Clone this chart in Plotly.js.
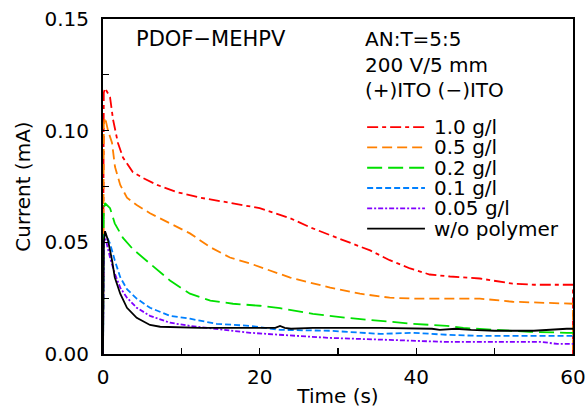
<!DOCTYPE html>
<html><head><meta charset="utf-8">
<script src="https://cdn.plot.ly/plotly-3.0.1.min.js"></script>
<style>html,body{margin:0;padding:0;background:#fff}#c{width:587px;height:408px}</style>
</head><body><div id="c"></div>
<script>
const seriesNames = ["1.0 g/l","0.5 g/l","0.2 g/l","0.1 g/l","0.05 g/l","w/o polymer"];
const t_red = [0,0.1,0.26,0.9,1.28,1.9,2.55,3.8,5.1,6.9,9.4,12.4,14.9,17.5,20,23.9,26.4,29,31.5,34.1,36.6,39.2,41.7,44.3,48.1,52.3,55,59.6,60,60];
const v_red = [0,0.117,0.119,0.115,0.105,0.0946,0.088,0.0815,0.0788,0.0757,0.0725,0.070,0.0685,0.067,0.0653,0.0608,0.0568,0.0532,0.050,0.0464,0.042,0.0383,0.0356,0.0347,0.0338,0.0315,0.031,0.031,0.031,0];
const t_orange = [0,0.1,0.26,0.64,1.15,1.53,2.2,3.06,4.3,6,8.55,11.1,13.7,16.2,18.8,21.3,23.9,26.4,29,32.8,36.6,39.6,43.9,48.1,52.3,55.4,59.2,60,60];
const v_orange = [0,0.103,0.106,0.100,0.0946,0.0838,0.0757,0.070,0.0667,0.063,0.0585,0.054,0.0478,0.0432,0.0405,0.0374,0.0342,0.032,0.0297,0.027,0.0252,0.0248,0.0248,0.0248,0.0234,0.023,0.0225,0.0225,0];
const t_green = [0,0.1,0.26,0.9,1.5,2.55,3.8,6,8.55,11.1,13.7,16.6,20,22.6,26.8,31.1,35.4,39.6,43.9,46,50.3,54.5,59.2,60];
const v_green = [0,0.065,0.0675,0.0653,0.0585,0.052,0.047,0.0405,0.0329,0.027,0.0239,0.0225,0.0216,0.0205,0.018,0.0162,0.0149,0.0135,0.0126,0.0117,0.0108,0.0099,0.0095,0.0095];
const t_blue = [0,0.1,0.3,0.9,1.5,2.2,3.06,4.3,6,8.55,11.1,14.5,18.8,22.6,29,35.4,39.6,43.9,48.1,55,60];
const v_blue = [0,0.052,0.054,0.0495,0.042,0.0344,0.029,0.0248,0.0207,0.0171,0.0158,0.0135,0.0126,0.0108,0.0104,0.009,0.0095,0.0086,0.0081,0.0081,0.0081];
const t_purple = [0,0.1,0.3,0.9,1.5,2.2,3.06,4.3,6,8.55,11.1,14.5,18.8,23,29,36.6,43.9,56,58,60];
const v_purple = [0,0.050,0.052,0.0432,0.036,0.0297,0.0252,0.0207,0.0171,0.014,0.0126,0.0113,0.0095,0.0085,0.0072,0.0063,0.0054,0.0054,0.0045,0.0045];
const t_black = [0,0.1,0.26,0.64,1.15,1.5,2.2,3.06,4.3,6,7.3,12.4,22,22.6,23.2,24,26.8,35.4,42,43,45,47,50,55,59.2,60];
const v_black = [0,0.050,0.055,0.0509,0.042,0.0344,0.027,0.0207,0.0162,0.013,0.0122,0.0117,0.0117,0.0126,0.0117,0.0113,0.0117,0.0117,0.0113,0.0108,0.0113,0.0108,0.0104,0.0104,0.0113,0.0113];
const xTickVals = [0,10,20,30,40,50,60];
const xTickText = ["0","","20","","40","","60"];
const yTickVals = [0,0.025,0.05,0.075,0.10,0.125,0.15];
const yTickText = ["0.00","","0.05","","0.10","","0.15"];
const noteLines = ["AN:T=5:5","200 V/5 mm","(+)ITO (\u2212)ITO"];
const plotLabel = "PDOF\u2212MEHPV";

const colors = ["#ff0000","#ff8000","#00e000","#0080ff","#8000ff","#000000"];
const dashes = ["11px,4px,4px,4px","10px,5px","15px,6px","6px,3px","5px,2px,2px,2px","solid"];
const xs = [t_red,t_orange,t_green,t_blue,t_purple,t_black];
const ys = [v_red,v_orange,v_green,v_blue,v_purple,v_black];
const traces = seriesNames.map((n,i)=>({
  x: xs[i], y: ys[i], name: n, type: 'scatter', mode: 'lines', showlegend: false,
  line: {color: colors[i], width: 1.8, dash: dashes[i]}
}));
const F = '"DejaVu Sans", Verdana, sans-serif';
const FS = 20;

// manual legend (sample line + label), positioned in paper coordinates
const legX0 = 0.562, legX1 = 0.685, legTX = 0.70, legY0 = 0.677, legStep = 0.0605;
const shapes = seriesNames.map((n,i)=>({
  type: 'line', xref: 'paper', yref: 'paper',
  x0: legX0, x1: legX1, y0: legY0 - i*legStep, y1: legY0 - i*legStep,
  line: {color: colors[i], width: 1.8, dash: dashes[i]}
}));
const annotations = seriesNames.map((n,i)=>({
  text: n, xref: 'paper', yref: 'paper', x: legTX, y: legY0 - i*legStep,
  xanchor: 'left', yanchor: 'middle', showarrow: false, font: {family: F, size: FS}
}));
annotations.push({text: plotLabel, xref: 'paper', yref: 'paper', x: 0.065, y: 0.94,
  xanchor: 'left', yanchor: 'middle', showarrow: false, font: {family: F, size: 21}});
const noteY = [0.94, 0.862, 0.787];
noteLines.forEach((s,i)=>annotations.push({text: s, xref: 'paper', yref: 'paper', x: 0.553, y: noteY[i],
  xanchor: 'left', yanchor: 'middle', showarrow: false, font: {family: F, size: FS}}));

const layout = {
  width: 587, height: 408,
  margin: {l: 103, r: 14, t: 19, b: 54},
  paper_bgcolor: '#fff', plot_bgcolor: '#fff',
  font: {family: F, size: FS, color: '#000'},
  showlegend: false,
  xaxis: {range: [0,60], tickmode: 'array', tickvals: xTickVals, ticktext: xTickText,
    ticks: 'inside', ticklen: 6, tickwidth: 1.2, tickcolor: '#000', showgrid: false, zeroline: false,
    showline: true, linecolor: '#000', linewidth: 2, mirror: true, ticklabelstandoff: 4,
    tickfont: {family: F, size: 20}, title: {text: 'Time (s)', font: {family: F, size: 20}, standoff: 5}},
  yaxis: {range: [0,0.15], tickmode: 'array', tickvals: yTickVals, ticktext: yTickText,
    ticks: 'inside', ticklen: 6, tickwidth: 1.2, tickcolor: '#000', showgrid: false, zeroline: false,
    showline: true, linecolor: '#000', linewidth: 2, mirror: true, ticklabelstandoff: 8,
    tickfont: {family: F, size: 20}, title: {text: 'Current (mA)', font: {family: F, size: 20}, standoff: 8}},
  shapes: shapes,
  annotations: annotations
};
Plotly.newPlot('c', traces, layout, {displayModeBar: false, staticPlot: true});
</script></body></html>
